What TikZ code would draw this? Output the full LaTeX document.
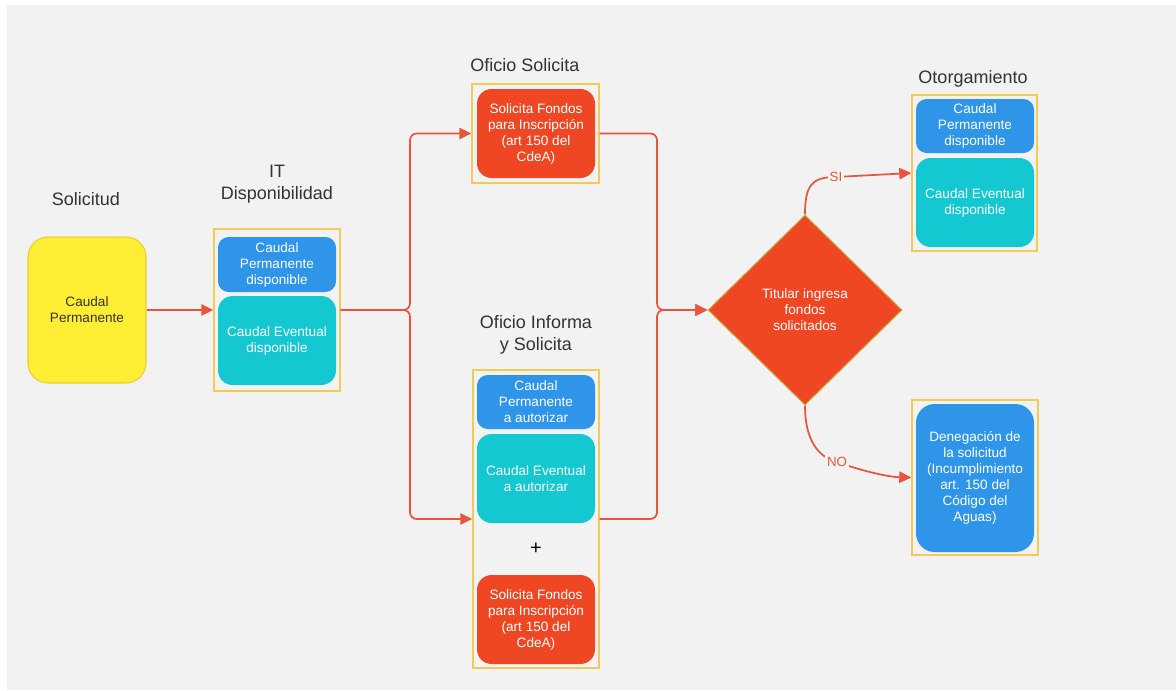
\documentclass[tikz,border=0pt]{standalone}
\usepackage{fontspec}
\setmainfont{Liberation Sans}
\usetikzlibrary{shapes.geometric,arrows.meta}
\definecolor{bg}{HTML}{F2F2F2}
\definecolor{ylw}{HTML}{FFEE33}
\definecolor{ylwb}{HTML}{E8CF3A}
\definecolor{gold}{HTML}{F0CB55}
\definecolor{dgold}{HTML}{C9A640}
\definecolor{blu}{HTML}{2E95E9}
\definecolor{cyn}{HTML}{14C8D2}
\definecolor{rd}{HTML}{EF4723}
\definecolor{ln}{HTML}{E8553C}
\definecolor{lbl}{HTML}{333333}
\begin{document}
\begin{tikzpicture}[x=0.75pt,y=-0.75pt,
  title/.style={text=lbl,align=center,font=\fontsize{13.5}{16.5}\selectfont,inner sep=0pt},
  grp/.style={draw=gold,line width=1.1pt,inner sep=0pt},
  inbox/.style={rounded corners=8pt,text=white,align=center,inner sep=1pt,
    font=\fontsize{10.2}{12}\selectfont,minimum width=88.5pt},
  bluebox/.style={inbox,fill=blu},
  cyanbox/.style={inbox,fill=cyn,rounded corners=11pt},
  redbox/.style={inbox,fill=rd,rounded corners=11pt},
  ybox/.style={inbox,fill=ylw,draw=ylwb,line width=0.8pt,text=lbl,rounded corners=15pt},
  conn/.style={draw=ln,line width=1.3pt,-{Triangle[length=9pt,width=8.5pt]}},
  lab/.style={fill=bg,text=ln,inner sep=1.5pt,font=\fontsize{10}{12}\selectfont}]
\useasboundingbox (0,0) rectangle (1176,690);
\fill[bg] (7,5) rectangle (1176,690);

% Solicitud
\node[title] (tSol) at (86,199) {Solicitud};
\node[ybox,minimum width=88.5pt,minimum height=109.5pt] (sol) at (87,310) {Caudal\\Permanente};

% IT Disponibilidad
\node[title] (tIT) at (277,184) {IT\\Disponibilidad};
\node[grp,minimum width=94.5pt,minimum height=121.5pt] (it) at (277,310) {};
\node[bluebox,minimum height=41.25pt] (itA) at (277,264.5) {Caudal\\Permanente\\disponible};
\node[cyanbox,minimum height=66.75pt] (itB) at (277,340.5) {Caudal Eventual\\disponible};

% Oficio Solicita
\node[title] (tOS) at (525,65) {Oficio Solicita};
\node[grp,minimum width=95.25pt,minimum height=74.25pt] (os) at (535.5,133.5) {};
\node[redbox,minimum height=66.75pt] (osA) at (536,133.5) {Solicita Fondos\\para Inscripción\\(art 150 del\\CdeA)};

% Oficio Informa y Solicita
\node[title] (tOI) at (536,335) {Oficio Informa\\y Solicita};
\node[grp,minimum width=94.5pt,minimum height=223.5pt] (oi) at (536,519) {};
\node[bluebox,minimum height=40.5pt] (oiA) at (536,402) {Caudal\\Permanente\\a autorizar};
\node[cyanbox,minimum height=66.75pt] (oiB) at (536,478.5) {Caudal Eventual\\a autorizar};
\node[text=black,font=\fontsize{15}{16}\selectfont] (plus) at (536,549) {+};
\node[redbox,minimum height=66.75pt] (oiC) at (536,619.5) {Solicita Fondos\\para Inscripción\\(art 150 del\\CdeA)};

% Decision
\node[diamond,fill=rd,draw=dgold,line width=0.8pt,aspect=1.02,inner sep=0pt,
  minimum width=145.5pt,minimum height=142.5pt,text=white,align=center,
  font=\fontsize{10.2}{12}\selectfont] (dec) at (805,310) {Titular ingresa\\fondos\\solicitados};

% Otorgamiento
\node[title] (tOt) at (973,79) {Otorgamiento};
\node[grp,minimum width=93.75pt,minimum height=117pt] (ot) at (974.5,173) {};
\node[bluebox,minimum height=40.5pt] (otA) at (975,126) {Caudal\\Permanente\\disponible};
\node[cyanbox,minimum height=66.75pt] (otB) at (975,202.5) {Caudal Eventual\\disponible};

% Denegacion
\node[grp,minimum width=94.5pt,minimum height=116.25pt] (de) at (975,477.5) {};
\node[bluebox,rounded corners=14pt,minimum height=111pt] (deA) at (975,478) {Denegación de\\la solicitud\\(Incumplimiento\\art. 150 del\\Código del\\Aguas)};

% connectors
\coordinate (j1) at (410,310);
\coordinate (j2) at (657,310);
\draw[conn] (sol.east) -- (it.west);
\draw[conn,rounded corners=5pt] (it.east) -- (j1) |- (os.west);
\draw[conn,rounded corners=5pt] (it.east) -- (j1) |- (oi.west);
\draw[conn,rounded corners=5pt] (os.east) -| (j2) -- (dec.west);
\draw[conn,rounded corners=5pt] (oi.east) -| (j2) -- (dec.west);
\draw[conn] (dec.north) .. controls (805,185) and (812,177) .. (836,177) node[lab] (si) {SI} -- (ot.west);
\draw[conn] (dec.south) .. controls (805,440) and (818,457) .. (837,462) node[lab] (no) {NO} .. controls (865,472) and (890,477) .. (de.west);
\end{tikzpicture}
\end{document}
